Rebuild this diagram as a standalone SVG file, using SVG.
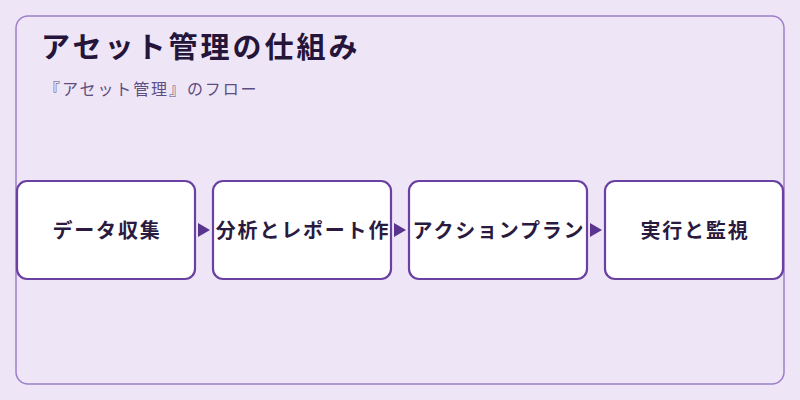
<svg xmlns="http://www.w3.org/2000/svg" width="800" height="400" viewBox="0 0 800 400">
<defs>
<style>
.frame{fill:#EEE6F6;stroke:#9C7DCB;stroke-width:1.5}
.node rect{fill:#FFFFFF;stroke:#6B40A3;stroke-width:2.2}
.node text{font-family:"Noto Sans CJK JP","Noto Sans",sans-serif;font-weight:bold;font-size:20px;letter-spacing:1.8px;fill:#2A1A40;text-anchor:middle}
.title{font-family:"Noto Sans CJK JP","Noto Sans",sans-serif;font-weight:bold;font-size:29px;letter-spacing:3px;fill:#25153A}
.sub{font-family:"Noto Sans CJK JP","Noto Sans",sans-serif;font-size:16px;letter-spacing:1.9px;fill:#5E4D80}
.conn path{fill:#5A3590;stroke:none}
</style>
</defs>
<rect width="800" height="400" fill="#EEE6F6"/>
<rect class="frame" x="16" y="16" width="768" height="368" rx="12"/>
<text class="title" x="41" y="58">アセット管理の仕組み</text>
<text class="sub" x="44" y="95">『アセット管理』のフロー</text>
<g id="connectors" class="conn">
<path d="M198,223 L210,230 L198,237 Z"/>
<path d="M394,223 L406,230 L394,237 Z"/>
<path d="M590,223 L602,230 L590,237 Z"/>
</g>
<g id="node1" class="node">
<rect x="17" y="181" width="178" height="98" rx="10"/>
<text x="107" y="238">データ収集</text>
</g>
<g id="node2" class="node">
<rect x="213" y="181" width="178" height="98" rx="10"/>
<text x="303" y="238">分析とレポート作</text>
</g>
<g id="node3" class="node">
<rect x="409" y="181" width="178" height="98" rx="10"/>
<text x="499" y="238">アクションプラン</text>
</g>
<g id="node4" class="node">
<rect x="605" y="181" width="178" height="98" rx="10"/>
<text x="695" y="238">実行と監視</text>
</g>
</svg>
